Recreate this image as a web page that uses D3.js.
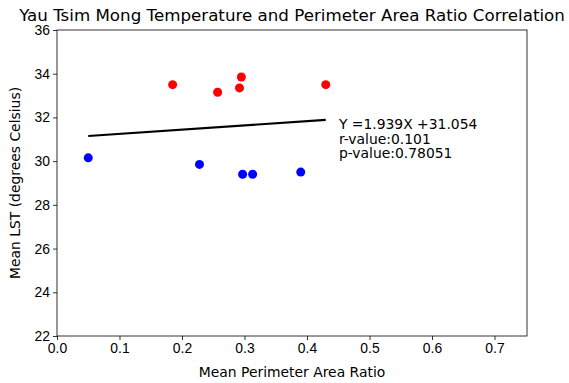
<!DOCTYPE html>
<html>
<head>
<meta charset="utf-8">
<script src="https://cdn.jsdelivr.net/npm/d3@7"></script>
<style>
  body { margin: 0; background: #fff; }
  svg { font-family: "DejaVu Sans", sans-serif; }
</style>
</head>
<body>
<svg id="chart"></svg>
<script>
// data
const hotX = [0.185, 0.257, 0.292, 0.295, 0.430];
const hotY = [33.50, 33.15, 33.35, 33.85, 33.50];
const coolX = [0.050, 0.228, 0.297, 0.313, 0.390];
const coolY = [30.15, 29.85, 29.40, 29.40, 29.50];
const slope = 1.939;
const intercept = 31.054;
const fitRange = [0.05, 0.43];
const xTicks = [0, 0.1, 0.2, 0.3, 0.4, 0.5, 0.6, 0.7];
const yTicks = [22, 24, 26, 28, 30, 32, 34, 36];
const notes = ["Y =1.939X +31.054", "r-value:0.101", "p-value:0.78051"];

const width = 569, height = 383;
const margin = { top: 30, right: 42, bottom: 47, left: 57 };
const fs = 13.9;

const svg = d3.select("#chart").attr("width", width).attr("height", height);

const x = d3.scaleLinear().domain([0, 0.752]).range([margin.left, width - margin.right]);
const y = d3.scaleLinear().domain([22, 36]).range([height - margin.bottom, margin.top]);

// axes
svg.append("g")
  .attr("transform", `translate(0,${height - margin.bottom})`)
  .call(d3.axisBottom(x).tickValues(xTicks).tickFormat(d3.format(".1f")).tickSize(4).tickPadding(3))
  .call(g => g.select(".domain").remove());

svg.append("g")
  .attr("transform", `translate(${margin.left},0)`)
  .call(d3.axisLeft(y).tickValues(yTicks).tickFormat(d3.format("d")).tickSize(4).tickPadding(3))
  .call(g => g.select(".domain").remove());

svg.selectAll(".tick text").attr("font-size", fs).attr("fill", "#000");
svg.selectAll(".tick line").attr("stroke", "#000").attr("stroke-width", 0.8);

// frame
svg.append("rect")
  .attr("x", margin.left).attr("y", margin.top)
  .attr("width", width - margin.left - margin.right)
  .attr("height", height - margin.top - margin.bottom)
  .attr("fill", "none").attr("stroke", "#000").attr("stroke-width", 0.8);

// points
svg.append("g").selectAll("circle")
  .data(d3.zip(hotX, hotY))
  .join("circle")
  .attr("cx", d => x(d[0])).attr("cy", d => y(d[1])).attr("r", 4.5).attr("fill", "#ff0000");

svg.append("g").selectAll("circle")
  .data(d3.zip(coolX, coolY))
  .join("circle")
  .attr("cx", d => x(d[0])).attr("cy", d => y(d[1])).attr("r", 4.5).attr("fill", "#0000ff");

// regression line
svg.append("line")
  .attr("x1", x(fitRange[0])).attr("y1", y(slope * fitRange[0] + intercept))
  .attr("x2", x(fitRange[1])).attr("y2", y(slope * fitRange[1] + intercept))
  .attr("stroke", "#000").attr("stroke-width", 2.2);

// annotation
svg.append("g").selectAll("text")
  .data(notes)
  .join("text")
  .attr("x", x(0.451)).attr("y", (d, i) => 129 + i * 14.6)
  .attr("font-size", fs)
  .text(d => d);

// title & labels
svg.append("text")
  .attr("x", (margin.left + width - margin.right) / 2).attr("y", 20.5)
  .attr("text-anchor", "middle").attr("font-size", 16.7)
  .text("Yau Tsim Mong Temperature and Perimeter Area Ratio Correlation");

svg.append("text")
  .attr("x", (margin.left + width - margin.right) / 2).attr("y", 377)
  .attr("text-anchor", "middle").attr("font-size", fs)
  .text("Mean Perimeter Area Ratio");

svg.append("text")
  .attr("transform", `translate(20,${(margin.top + height - margin.bottom) / 2}) rotate(-90)`)
  .attr("text-anchor", "middle").attr("font-size", fs)
  .text("Mean LST (degrees Celsius)");
</script>
</body>
</html>
